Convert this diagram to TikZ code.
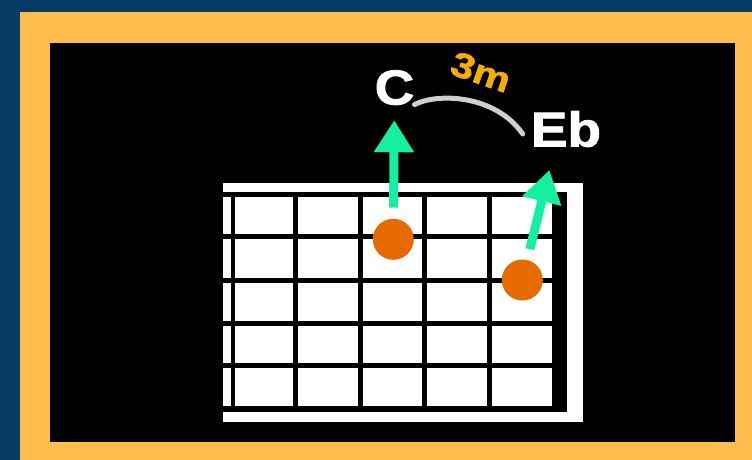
\documentclass[tikz,border=0pt]{standalone}
\usepackage{fontspec}
\setmainfont{Liberation Sans}
\newfontfamily\noteFont[FakeBold=1.6]{Liberation Sans Bold}
\usetikzlibrary{arrows.meta}
\definecolor{fbBackBlue}{HTML}{063B66}
\definecolor{fbFrameOrange}{HTML}{FDBC4B}
\definecolor{fbDotOrange}{HTML}{E56A00}
\definecolor{fbArrowGreen}{HTML}{12F0A0}
\definecolor{fbIntervalOrange}{HTML}{F7AC00}
\definecolor{fbArcGrey}{HTML}{CFCFD3}
\tikzset{
  note label/.style={
    text=white, inner sep=0pt, anchor=base, xscale=1.12,
    font=\fontsize{49}{49}\noteFont,
  },
  finger dot/.style={
    circle, fill=fbDotOrange, minimum size=41pt, inner sep=0pt,
  },
  note arrow/.style={
    -{Triangle[length=32pt, width=38pt]},
    line width=9pt, color=fbArrowGreen,
    shorten <=11pt,
  },
  interval arc/.style={
    line width=5pt, line cap=round, color=fbArcGrey,
  },
}

\begin{document}
\begin{tikzpicture}[x=1pt, y=-1pt]
\useasboundingbox (0,0) rectangle (752,460);

% --- PANEL ---
\fill[fbBackBlue] (0,0) rectangle (752,460);
\fill[fbFrameOrange] (20,12.5) rectangle (752,460);
\fill[black] (50,43) rectangle (735,441.7);

% --- FRETBOARD: frame, nut, frets, strings ---
\fill[white] (223,182.7) rectangle (583,422.3);
\fill[black] (223,191.7) rectangle (566.7,411.7);
\fill[white] (223,196.7) rectangle (551.7,406);
\fill[black] (230.7,196.7) rectangle (235,406);
\foreach \fx in {295.8,360.8,424.8,489.5}
  \fill[black] (\fx-2.5,196.7) rectangle (\fx+2.5,406);
\foreach \fy in {236.8,280,323.2,365.8}
  \fill[black] (223,\fy-2.5) rectangle (551.7,\fy+2.5);

% --- NOTES ---
\node[note label] (noteC) at (394.5,104.5) {C};
\node[note label] (noteEb) at (566,146.5) {Eb};

\node[finger dot] (dotC) at (393.3,239.3) {};
\node[finger dot] (dotEb) at (522.3,280) {};

% --- ARROWS: finger -> note name ---
\draw[note arrow, shorten >=15pt] (dotC) -- (noteC);
\draw[note arrow, shorten >=23.5pt] (dotEb) -- ([xshift=-11pt]noteEb.south);

% --- INTERVAL ---
\draw[interval arc]
  (noteC.base east) .. controls +(24,-12) and +(-27,-39)
  .. ([xshift=-8pt, yshift=-5pt]noteEb.west);
\node[text=fbIntervalOrange, font=\fontsize{35}{35}\noteFont,
      rotate=-19, xscale=1.2, inner sep=0pt]
  (intervalLabel) at (481,72) {3m};

\end{tikzpicture}
\end{document}
